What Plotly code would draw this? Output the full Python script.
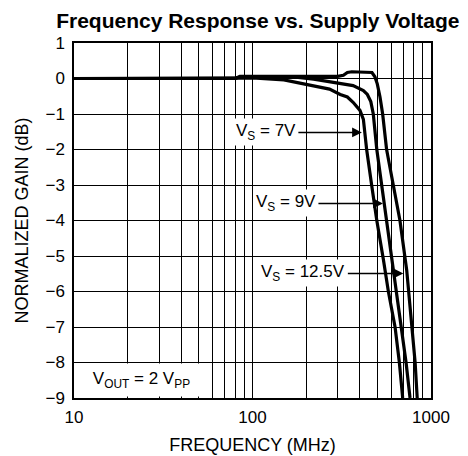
import math
import plotly.graph_objects as go

# ---- data ----
freq_7v = [10, 80, 100, 150, 170, 230, 270, 310, 340, 366, 400, 418, 436, 465, 497, 541, 577, 629, 665, 694]
gain_7v = [0, 0, 0.02, -0.04, -0.1, -0.24, -0.3, -0.45, -0.52, -0.67, -0.9, -1.15, -2, -3, -4, -5.1, -6, -7, -8, -9]

freq_9v = [10, 80, 85, 180, 220, 263, 311, 366, 418, 440, 460, 475, 497, 530, 565, 603, 643, 686, 725, 763]
gain_9v = [0, 0, 0.04, 0.03, -0.02, -0.08, -0.14, -0.2, -0.34, -0.45, -0.65, -1.0, -2, -3, -4, -5, -6, -7, -8, -9]

freq_12v5 = [10, 80, 85, 200, 300, 323, 340, 360, 400, 440, 467, 485, 500, 518, 536, 564, 615, 670, 731, 780, 815, 837]
gain_12v5 = [0, 0, 0.06, 0.06, 0.06, 0.09, 0.17, 0.19, 0.19, 0.19, 0.17, 0.05, -0.15, -0.52, -1.0, -2, -3, -4, -5.4, -6.9, -8, -9]

series_names = ["V<sub>S</sub> = 7V", "V<sub>S</sub> = 9V", "V<sub>S</sub> = 12.5V"]
series_freqs = [freq_7v, freq_9v, freq_12v5]
series_gains = [gain_7v, gain_9v, gain_12v5]

# arrow tip targets (freq MHz, gain dB) and label offsets
label_tip_freq = [410, 538, 700]
label_tip_gain = [-1.52, -3.52, -5.49]
label_ax = [-96, -97, -100]

x_major = [10, 100, 1000]
x_major_text = ["10", "100", "1000"]
x_minor = [20, 30, 40, 50, 60, 70, 80, 90, 200, 300, 400, 500, 600, 700, 800, 900]
y_ticks = [1, 0, -1, -2, -3, -4, -5, -6, -7, -8, -9]

FONT = "Liberation Sans, Arial, sans-serif"

fig = go.Figure()
for f, g in zip(series_freqs, series_gains):
    fig.add_trace(go.Scatter(x=f, y=g, mode="lines",
                             line=dict(color="black", width=3.2),
                             showlegend=False, hoverinfo="skip"))

for name, tf, tg, ax in zip(series_names, label_tip_freq, label_tip_gain, label_ax):
    fig.add_annotation(x=math.log10(tf), y=tg, xref="x", yref="y",
                       text=name, showarrow=True, arrowhead=2, arrowsize=1.3,
                       arrowwidth=1.5, arrowcolor="black", ax=ax, ay=0,
                       font=dict(family=FONT, size=17, color="black"),
                       bgcolor="white", borderpad=2)

fig.add_annotation(x=0, xref="paper", xanchor="left", y=-8.5, yref="y", yanchor="middle",
                   text="V<sub>OUT</sub> = 2 V<sub>PP</sub>", showarrow=False,
                   font=dict(family=FONT, size=17, color="black"),
                   bgcolor="white", width=125, height=24, borderpad=4, align="center")

# page body adds an 8px margin, so the figure is 8px smaller and shifted
fig.update_layout(
    width=460, height=448,
    margin=dict(l=66, r=37, t=35, b=58, autoexpand=False),
    paper_bgcolor="white", plot_bgcolor="white",
    font=dict(family=FONT, size=17, color="black"),
    title=dict(text="<b>Frequency Response vs. Supply Voltage</b>",
               x=0.515, xanchor="center", xref="paper",
               y=1 - 13 / 448, yref="container", yanchor="middle",
               font=dict(family=FONT, size=21, color="black")),
)
fig.update_xaxes(type="log", range=[1, 3], automargin=False,
                 tickvals=x_major, ticktext=x_major_text,
                 showgrid=True, gridcolor="black", gridwidth=1,
                 showline=True, linecolor="black", linewidth=1.5, mirror=True,
                 ticks="", ticklabelstandoff=3,
                 tickfont=dict(family=FONT, size=17),
                 minor=dict(tickvals=x_minor, showgrid=True, gridcolor="black",
                            gridwidth=1, ticks="inside", ticklen=4, tickcolor="black"),
                 title=dict(text="FREQUENCY (MHz)", standoff=12,
                            font=dict(family=FONT, size=18)),
                 zeroline=False)
fig.update_yaxes(range=[-9, 1], tickvals=y_ticks, automargin=False,
                 showgrid=True, gridcolor="black", gridwidth=1,
                 showline=True, linecolor="black", linewidth=1.5, mirror=True,
                 ticks="", ticklabelstandoff=4,
                 tickfont=dict(family=FONT, size=17),
                 title=dict(text="NORMALIZED GAIN (dB)", standoff=12,
                            font=dict(family=FONT, size=18)),
                 zeroline=False)

fig.write_html("out.html")
